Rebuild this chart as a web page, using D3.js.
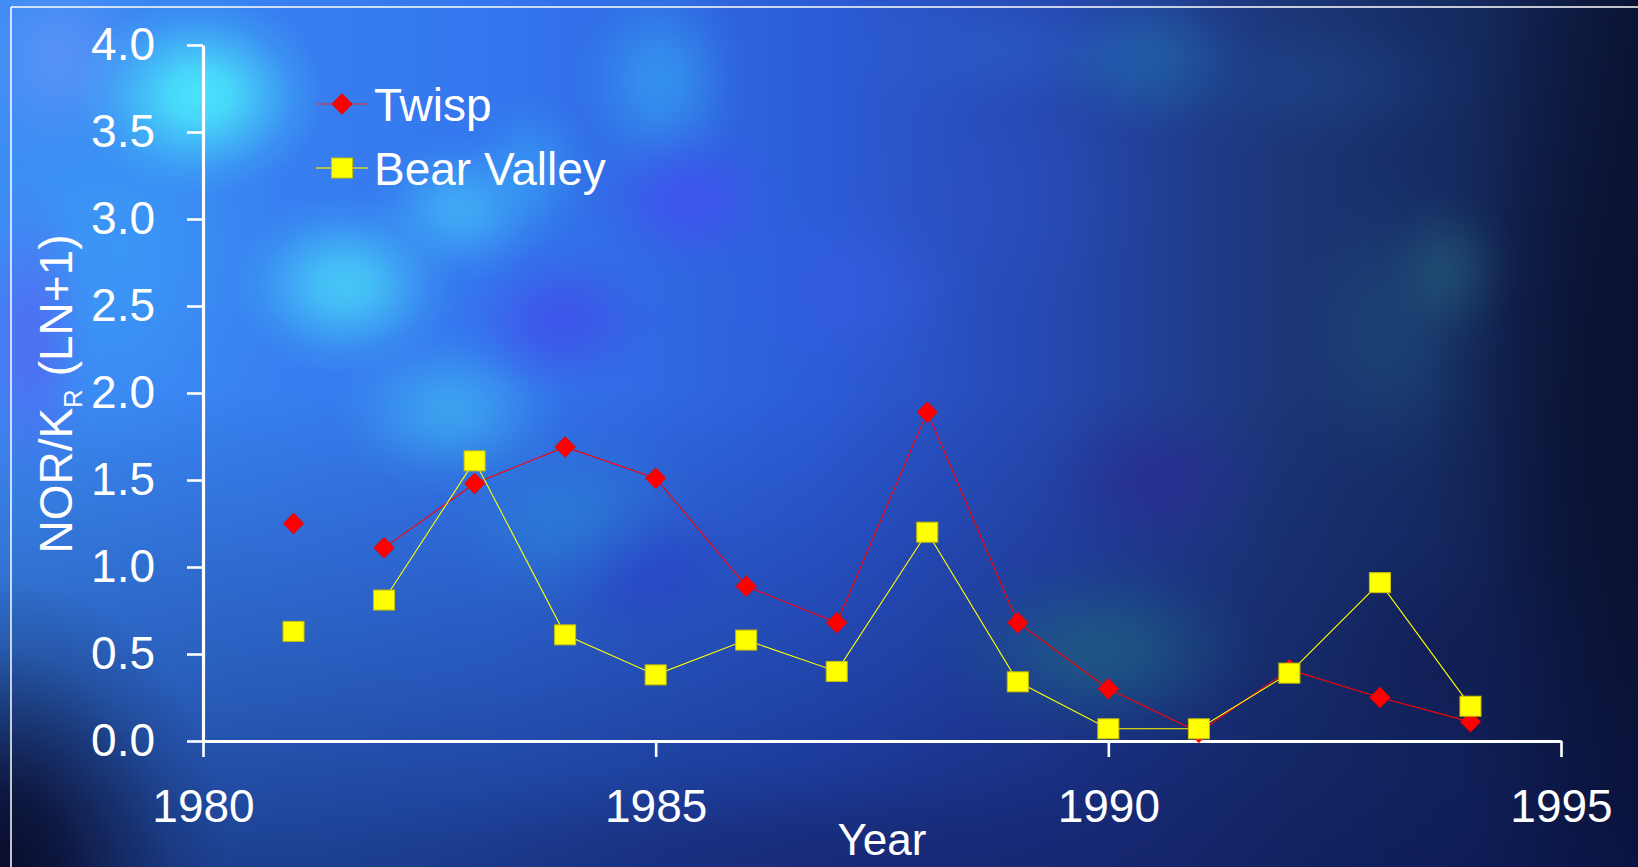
<!DOCTYPE html>
<html>
<head>
<meta charset="utf-8">
<script src="https://cdn.jsdelivr.net/npm/d3@7"></script>
<style>
  html, body { margin: 0; padding: 0; background: #0c1638; overflow: hidden; }
  svg { display: block; }
  text { font-family: "Liberation Sans", Arial, sans-serif; fill: #ffffff; }
</style>
</head>
<body>
<svg id="chart" width="1638" height="867"></svg>
<script>
// ---- data ----
const years = [1981, 1982, 1983, 1984, 1985, 1986, 1987, 1988, 1989, 1990, 1991, 1992, 1993, 1994];
const twisp = [1.25, 1.11, 1.48, 1.69, 1.51, 0.89, 0.68, 1.89, 0.68, 0.30, 0.05, 0.41, 0.25, 0.11];
const bearValley = [0.63, 0.81, 1.61, 0.61, 0.38, 0.58, 0.40, 1.20, 0.34, 0.07, 0.07, 0.39, 0.91, 0.20];
const seriesNames = ["Twisp", "Bear Valley"];
const lineStartYear = 1982; // connecting lines begin here; 1981 stands alone
const yTicks = [0, 0.5, 1.0, 1.5, 2.0, 2.5, 3.0, 3.5, 4.0];
const xTicks = [1980, 1985, 1990, 1995];

const W = 1638, H = 867;
const svg = d3.select("#chart");
const defs = svg.append("defs");

// ---- backdrop: soft blue cloudy slide background ----
const baseGrad = defs.append("linearGradient").attr("id", "baseGrad")
  .attr("x1", 0).attr("y1", 0).attr("x2", 1).attr("y2", 0);
[[0, "#3c8cf4"], [0.3, "#3476ee"], [0.5, "#2c5cd8"], [0.64, "#2648b0"], [0.78, "#1c3678"], [0.9, "#142a5e"], [1, "#0b1434"]]
  .forEach(([o, c]) => baseGrad.append("stop").attr("offset", o).attr("stop-color", c));

const shadeGrad = defs.append("linearGradient").attr("id", "shadeGrad")
  .attr("x1", 0).attr("y1", 0).attr("x2", 0).attr("y2", 1);
[[0, 0], [0.45, 0], [0.8, 0.35], [1, 0.6]]
  .forEach(([o, a]) => shadeGrad.append("stop").attr("offset", o).attr("stop-color", "#0a1450").attr("stop-opacity", a));

svg.append("rect").attr("width", W).attr("height", H).attr("fill", "url(#baseGrad)");
svg.append("rect").attr("width", W).attr("height", H).attr("fill", "url(#shadeGrad)");

// cloud patches: cx, cy, rx, ry, colour, peak opacity
const clouds = [
  [60, 60, 100, 110, "#6a98f8", 0.55],
  [120, 250, 170, 210, "#3ca2f8", 0.55],
  [200, 95, 125, 100, "#4ae4fb", 1],
  [345, 285, 115, 90, "#48d4f8", 0.85],
  [460, 210, 95, 75, "#45c4f8", 0.65],
  [450, 410, 120, 85, "#40b8f0", 0.65],
  [660, 80, 90, 110, "#38b0f8", 0.55],
  [530, 170, 70, 80, "#38b0f8", 0.45],
  [30, 340, 65, 170, "#5a5cf0", 0.6],
  [690, 200, 100, 80, "#4450f2", 0.75],
  [560, 320, 105, 80, "#4448ea", 0.65],
  [640, 565, 105, 80, "#2a36c8", 0.55],
  [570, 520, 140, 100, "#2a8ad8", 0.5],
  [850, 290, 140, 100, "#3a5ee8", 0.45],
  [1000, 200, 160, 120, "#3050c4", 0.35],
  [1160, 480, 120, 90, "#2a2a90", 0.65],
  [1100, 650, 170, 100, "#1e6282", 0.7],
  [1390, 330, 110, 160, "#1e4e7a", 0.55],
  [1450, 270, 70, 80, "#2a6a82", 0.45],
  [1000, 50, 190, 70, "#2c62cc", 0.45],
  [1150, 60, 110, 80, "#2070b0", 0.55],
  [1300, 80, 190, 80, "#1e4a92", 0.45],
  [0, 867, 230, 290, "#080a28", 0.95],
  [850, 855, 540, 90, "#18266e", 0.55],
  [1638, 420, 210, 600, "#0a1030", 0.85],
  [1450, 660, 150, 130, "#101a50", 0.5]
];
// smooth bell-shaped fall-off for each patch
const falloff = [[0, 1], [0.25, 0.85], [0.5, 0.5], [0.75, 0.17], [1, 0]];
clouds.forEach((c, i) => {
  const g = defs.append("radialGradient").attr("id", "cloud" + i);
  falloff.forEach(([o, k]) => g.append("stop").attr("offset", o)
    .attr("stop-color", c[4]).attr("stop-opacity", c[5] * k));
});
svg.append("g").selectAll("ellipse").data(clouds).join("ellipse")
  .attr("cx", d => d[0]).attr("cy", d => d[1])
  .attr("rx", d => d[2]).attr("ry", d => d[3])
  .attr("fill", (d, i) => `url(#cloud${i})`);

// slide frame lines
svg.append("line").attr("x1", 11).attr("x2", W).attr("y1", 7).attr("y2", 7)
  .attr("stroke", "#ffffff").attr("stroke-width", 1.5);
svg.append("line").attr("x1", 11).attr("x2", 11).attr("y1", 7).attr("y2", H)
  .attr("stroke", "#ffffff").attr("stroke-width", 1.5);

// ---- scales & axes ----
const x = d3.scaleLinear().domain([1980, 1995]).range([203, 1561]);
const y = d3.scaleLinear().domain([0, 4]).range([741, 45]);

const yAxis = svg.append("g").attr("transform", `translate(${x(1980)},0)`)
  .call(d3.axisLeft(y).tickValues(yTicks).tickFormat(d3.format(".1f"))
    .tickSize(16).tickSizeOuter(0).tickPadding(32));
const xAxis = svg.append("g").attr("transform", `translate(0,${y(0)})`)
  .call(d3.axisBottom(x).tickValues(xTicks).tickFormat(d3.format("d"))
    .tickSize(16).tickSizeOuter(0).tickPadding(32));

[yAxis, xAxis].forEach(g => {
  g.select(".domain").attr("stroke", "#ffffff").attr("stroke-width", 3.2);
  g.selectAll(".tick line").attr("stroke", "#ffffff").attr("stroke-width", 2.6);
  g.selectAll(".tick text").attr("fill", "#ffffff")
    .style("font-family", '"Liberation Sans", Arial, sans-serif').style("font-size", "46px");
});

// axis titles
svg.append("text").attr("x", x(1987.5)).attr("y", 855)
  .attr("text-anchor", "middle").style("font-size", "44px").text("Year");

const yTitle = svg.append("text")
  .attr("transform", `translate(72,${(y(0) + y(4)) / 2 + 1}) rotate(-90)`)
  .attr("text-anchor", "middle").style("font-size", "46px");
yTitle.append("tspan").text("NOR/K");
yTitle.append("tspan").attr("dy", 10).style("font-size", "26px").text("R");
yTitle.append("tspan").attr("dy", -10).text("\u00a0(LN+1)");

// ---- series ----
const seriesData = [twisp, bearValley].map((vals, i) => ({
  name: seriesNames[i],
  points: years.map((yr, j) => ({ year: yr, value: vals[j] }))
}));
const styles = [
  { line: "#ff0000", fill: "#ff0000", stroke: "#e00000", shape: "diamond" },
  { line: "#ffff00", fill: "#ffff00", stroke: "#c8c000", shape: "square" }
];

function marker(sel, shape, fill, stroke) {
  if (shape === "diamond") {
    sel.append("path").attr("d", "M0,-10.5 L10.3,0 L0,10.5 L-10.3,0 Z")
      .attr("fill", fill).attr("stroke", stroke).attr("stroke-width", 0.6);
  } else {
    sel.append("rect").attr("x", -10.5).attr("y", -10).attr("width", 21).attr("height", 20)
      .attr("fill", fill).attr("stroke", stroke).attr("stroke-width", 1);
  }
}

const lineGen = d3.line().x(d => x(d.year)).y(d => y(d.value));

seriesData.forEach((s, i) => {
  const st = styles[i];
  const g = svg.append("g").attr("class", "series");
  g.append("path")
    .datum(s.points.filter(p => p.year >= lineStartYear))
    .attr("d", lineGen).attr("fill", "none")
    .attr("stroke", st.line).attr("stroke-width", 1.1);
  g.selectAll("g.pt").data(s.points).join("g").attr("class", "pt")
    .attr("transform", d => `translate(${x(d.year)},${y(d.value)})`)
    .each(function () { marker(d3.select(this), st.shape, st.fill, st.stroke); });
});

// ---- legend ----
const legendY = [104, 168];
const legendLine = ["#b04870", "#d8d820"];
const legend = svg.append("g");
seriesNames.forEach((name, i) => {
  const row = legend.append("g").attr("transform", `translate(0,${legendY[i]})`);
  row.append("line").attr("x1", 316).attr("x2", 368).attr("y1", 0).attr("y2", 0)
    .attr("stroke", legendLine[i]).attr("stroke-width", 1.5);
  const m = row.append("g").attr("transform", "translate(342,0)");
  marker(m, styles[i].shape, styles[i].fill, styles[i].stroke);
  row.append("text").attr("x", 374).attr("y", 16.5).style("font-size", "46px").text(name);
});
</script>
</body>
</html>
